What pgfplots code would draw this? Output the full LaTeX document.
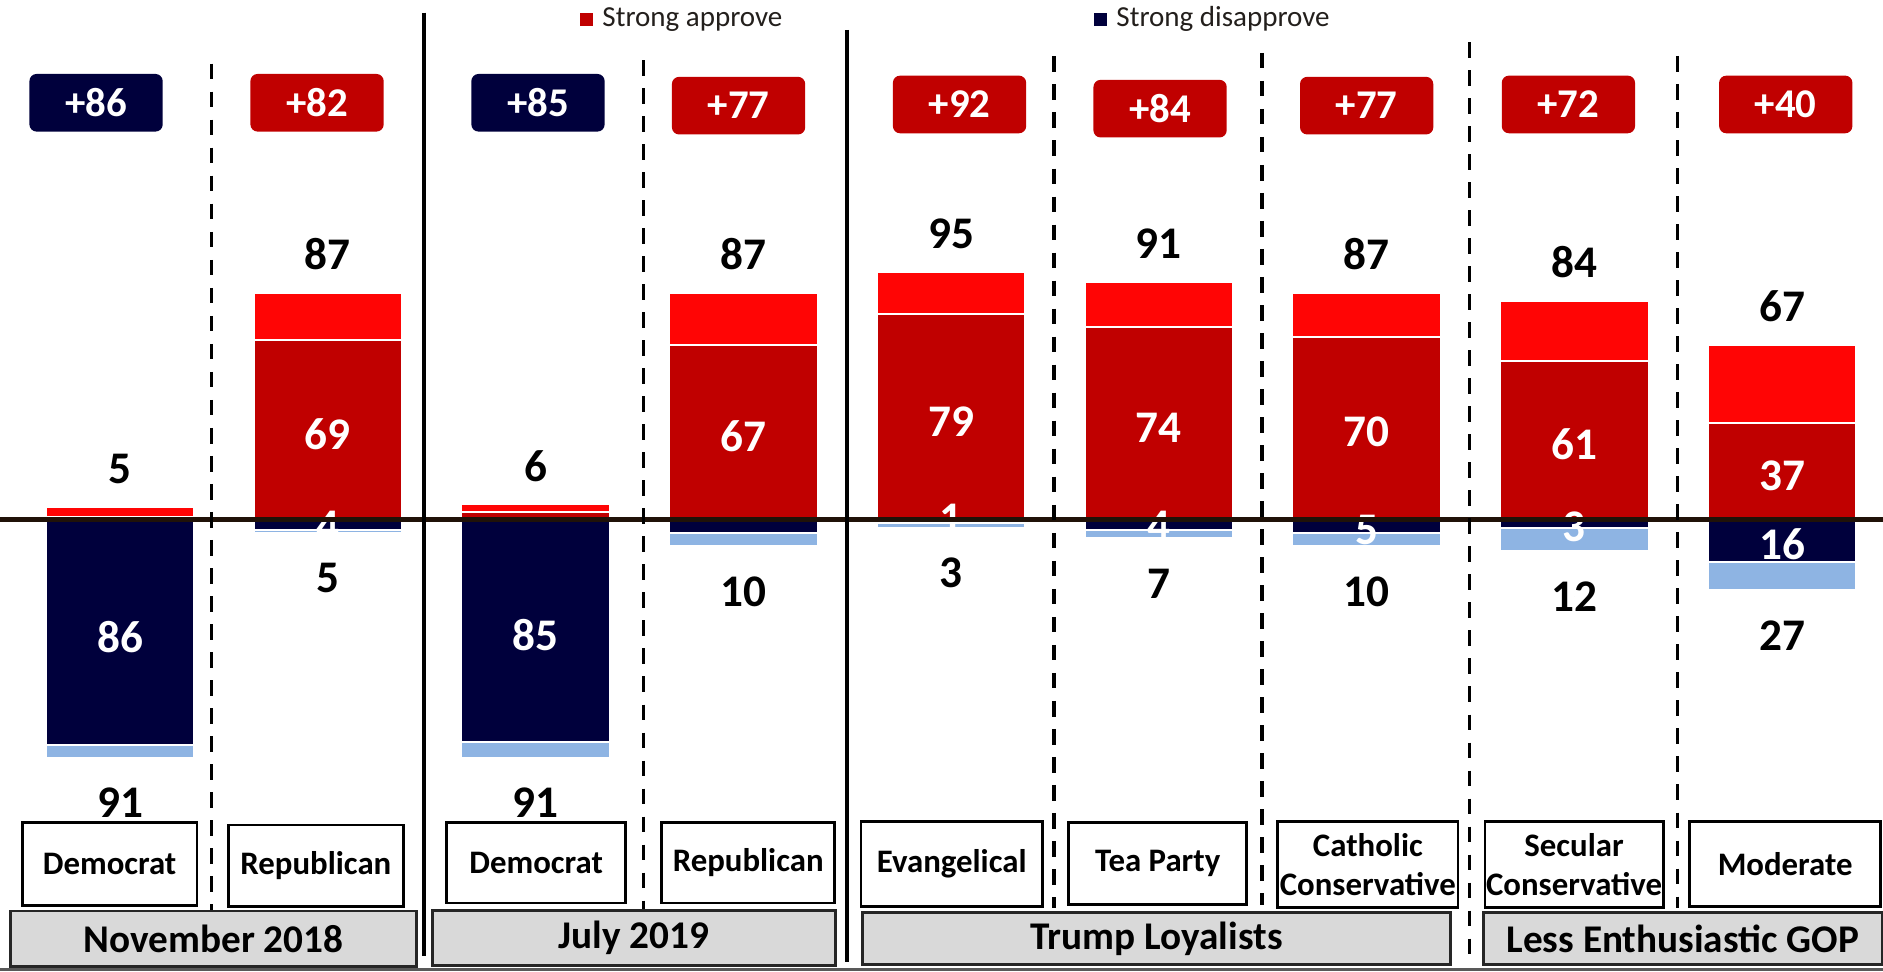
\documentclass[border=0pt]{standalone}
\usepackage{pgfplots}
\pgfplotsset{compat=1.18}
\usepackage{fontspec}
\setmainfont{Carlito}
\definecolor{dred}{HTML}{C00000}
\definecolor{bred}{HTML}{FF0505}
\definecolor{navy}{HTML}{00003C}
\definecolor{lblue}{HTML}{8EB4E3}
\definecolor{boxgray}{HTML}{D9D9D9}
\definecolor{zline}{HTML}{201208}
\definecolor{legtext}{HTML}{231F1C}
\newcommand{\lab}{\fontsize{11.3}{13}\selectfont\bfseries}
\newcommand{\badgef}{\fontsize{10.2}{12}\selectfont\bfseries}
\newcommand{\catf}{\fontsize{8.2}{9.6}\selectfont\bfseries}
\newcommand{\grpf}{\fontsize{9.8}{11}\selectfont\bfseries}
\newcommand{\legf}{\fontsize{7.25}{9}\selectfont}
\begin{document}
\begin{tikzpicture}
\begin{axis}[
  at={(0pt,0pt)}, anchor=south west,
  scale only axis, width=470.4pt, height=242.7pt,
  xmin=-0.578, xmax=8.486, ymin=-172.87, ymax=199.08,
  hide axis, clip=false,
  barstyle/.style={ybar, bar width=37.1pt, bar shift=0pt, draw=white, line width=0.5pt},
  labstyle/.style={only marks, mark=*, mark size=0pt, mark options={draw=none, fill=none},
     nodes near coords, point meta=explicit symbolic,
     nodes near coords style={anchor=center, font=\lab, text=#1, inner sep=0pt}},
]
% total approve
\addplot[barstyle, fill=bred] coordinates {(0,5) (1,87) (2,6) (3,87) (4,95) (5,91) (6,87) (7,84) (8,67)};
% strong approve
\addplot[barstyle, fill=dred] coordinates {(0,1) (1,69) (2,3) (3,67) (4,79) (5,74) (6,70) (7,61) (8,37)};
% total disapprove
\addplot[barstyle, fill=lblue] coordinates {(0,-91) (1,-5) (2,-91) (3,-10) (4,-3) (5,-7) (6,-10) (7,-12) (8,-27)};
% strong disapprove
\addplot[barstyle, fill=navy] coordinates {(0,-86) (1,-4) (2,-85) (3,-5) (4,-1) (5,-4) (6,-5) (7,-3) (8,-16)};
% labels: totals
\addplot[labstyle=black] coordinates {(0,19.7)[5] (1,101.7)[87] (2,20.7)[6] (3,101.7)[87] (4,109.7)[95] (5,105.7)[91] (6,101.7)[87] (7,98.7)[84] (8,81.7)[67]};
\addplot[labstyle=black] coordinates {(0,-108.4)[91] (1,-22.4)[5] (2,-108.4)[91] (3,-27.4)[10] (4,-20.4)[3] (5,-24.4)[7] (6,-27.4)[10] (7,-29.4)[12] (8,-44.4)[27]};
% labels: strong
\addplot[labstyle=white] coordinates {(1,32.9)[69] (3,32)[67] (4,37.8)[79] (5,35.4)[74] (6,33.7)[70] (7,29)[61] (8,17)[37]};
\addplot[labstyle=white] coordinates {(0,-44.8)[86] (1,-2.1)[4] (2,-44)[85] (4,0.5)[1] (5,-2.1)[4] (6,-3.9)[5] (7,-2.8)[3] (8,-9.4)[16]};
\end{axis}
\begin{scope}[x=0.3pt, y=-0.3pt, shift={(0pt,242.7pt)}]
% zero line
\draw[zline, line width=1.25pt] (0,433) -- (1568,433);
% separators
\draw[black, line width=1pt] (353,10.5) -- (353,796);
\draw[black, line width=1pt] (705,25) -- (705,801);
\tikzset{sep/.style={black, line width=0.9pt, dash pattern=on 3.9pt off 3.1pt}}
\draw[sep] (176,53) -- (176,758);
\draw[sep] (536,50) -- (536,758);
\draw[sep] (877.6,47) -- (877.6,756);
\draw[sep] (1051,44) -- (1051,754);
\draw[sep] (1223.5,35) -- (1223.5,802);
\draw[sep] (1397,46.6) -- (1397,756);
% legend
\fill[dred] (483,10.5) rectangle (494,21.5);
\node[anchor=base west, font=\legf, text=legtext, inner sep=0pt] at (501,22) {Strong approve};
\fill[navy] (911,10.5) rectangle (922,21.5);
\node[anchor=base west, font=\legf, text=legtext, inner sep=0pt] at (929,22) {Strong disapprove};
% badges
\foreach \cx/\cy/\col/\txt in {80/85.6/navy/+86, 264/85.6/dred/+82, 448/85.6/navy/+85, 615/88/dred/+77, 799/87/dred/+92, 966/90.5/dred/+84, 1138/88/dred/+77, 1306/87/dred/+72, 1487/87/dred/+40}
  \node[fill=\col, rounded corners=1.8pt, minimum width=33.3pt, minimum height=14.4pt, inner sep=0pt, text=white, font=\badgef] at (\cx,\cy) {\txt};
% category boxes
\tikzset{cbox/.style={draw=black, line width=0.7pt, fill=white}}
\foreach \xa/\xb/\ya/\yb/\txt in {18.6/164/685/754/Democrat, 190/336/687/755/Republican, 372/521/685/752/Democrat, 551/695/685/752/Republican, 717/868/684/755/Evangelical, 890/1038/685/753/Tea Party, 1064/1214/684/756/Catholic\\Conservative, 1236.5/1385/684/756/Secular\\Conservative, 1407/1566/684/755/Moderate}
{
  \draw[cbox] (\xa,\ya) rectangle (\xb,\yb);
  \node[font=\catf, align=center, inner sep=0pt] at ({(\xa+\xb)/2},{(\ya+\yb)/2}) {\txt};
}
% group boxes
\tikzset{gbox/.style={draw=black!85, line width=0.7pt, fill=boxgray}}
\foreach \xa/\xb/\ya/\yb/\txt in {8.5/347/758.6/805/November 2018, 360/696/758.5/804/July 2019, 718/1208/760/803/Trump Loyalists, 1235/1567.5/760/803/Less Enthusiastic GOP}
{
  \draw[gbox] (\xa,\ya) rectangle (\xb,\yb);
  \node[font=\grpf, inner sep=0pt] at ({(\xa+\xb)/2},{(\ya+\yb)/2}) {\txt};
}
\draw[black!65, line width=0.7pt] (0,807.5) -- (1568,807.5);
\end{scope}
\pgfresetboundingbox
\path[use as bounding box] (0pt,0pt) rectangle (470.4pt,242.7pt);
\end{tikzpicture}
\end{document}
